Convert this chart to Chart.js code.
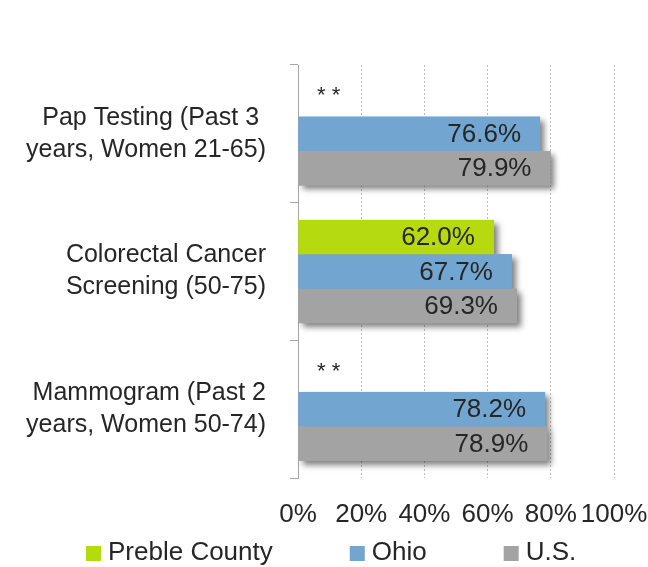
<!DOCTYPE html>
<html><head><meta charset="utf-8">
<script src="https://cdn.jsdelivr.net/npm/chart.js@4.4.0/dist/chart.umd.min.js"></script>
<style>html,body{margin:0;padding:0;background:#fff;}#wrap{width:648px;height:567px;}</style>
</head><body><div id="wrap"><canvas id="c" width="648" height="567"></canvas></div>
<script>
const categories = [["Pap Testing (Past 3 ","years, Women 21-65)"],["Colorectal Cancer","Screening (50-75)"],["Mammogram (Past 2","years, Women 50-74)"]];
const seriesNames = ["Preble County","Ohio","U.S."];
const prebleValues = [null, 62.0, null];
const ohioValues = [76.6, 67.7, 78.2];
const usValues = [79.9, 69.3, 78.9];
const xTickValues = [0,20,40,60,80,100];
const missingLabel = "* *";
const seriesColors = ["#b6da10","#72a5cf","#a3a3a3"];

const FONT = "'Liberation Sans', Arial, sans-serif";
const TEXT = "#262626";

const shadowPlugin = {
  id:'shadow',
  beforeDatasetsDraw(chart){
    const ctx = chart.ctx;
    ctx.save();
    ctx.shadowColor='rgba(0,0,0,0.5)';
    ctx.shadowBlur=6; ctx.shadowOffsetX=4; ctx.shadowOffsetY=4;
    chart.data.datasets.forEach((ds,i)=>{
      const meta = chart.getDatasetMeta(i);
      meta.data.forEach((el,j)=>{
        if(ds.data[j]==null) return;
        const p = el.getProps(['x','y','base','height'],true);
        ctx.fillStyle = ds.backgroundColor;
        ctx.fillRect(Math.min(p.base,p.x), p.y-p.height/2, Math.abs(p.x-p.base), p.height);
      });
    });
    ctx.restore();
  }
};

const labelPlugin = {
  id:'labels',
  afterDatasetsDraw(chart){
    const ctx = chart.ctx;
    const xs = chart.scales.x;
    ctx.save();
    ctx.fillStyle = TEXT;
    ctx.textBaseline = 'middle';
    chart.data.datasets.forEach((ds,i)=>{
      const meta = chart.getDatasetMeta(i);
      meta.data.forEach((el,j)=>{
        const p = el.getProps(['x','y'],true);
        if(ds.data[j]==null){
          ctx.font = "22px " + FONT;
          ctx.textAlign='left';
          ctx.fillText(missingLabel, xs.getPixelForValue(0)+19, p.y-3);
        } else {
          ctx.font = "26px " + FONT;
          ctx.textAlign='right';
          ctx.fillText(ds.data[j].toFixed(1)+'%', p.x-19, p.y+1);
        }
      });
    });
    ctx.restore();
  }
};

const legendPlugin = {
  id:'customLegend',
  afterDraw(chart){
    const ctx = chart.ctx;
    ctx.save();
    ctx.font = "26px " + FONT;
    ctx.textBaseline='middle';
    ctx.textAlign='left';
    let x = 86;
    const yMid = 553;
    chart.data.datasets.forEach(ds=>{
      ctx.fillStyle = ds.backgroundColor;
      ctx.fillRect(x, yMid-7, 15, 15);
      ctx.fillStyle = TEXT;
      ctx.fillText(ds.label, x+22, yMid);
      x += 22 + ctx.measureText(ds.label).width + 77;
    });
    ctx.restore();
  }
};

new Chart(document.getElementById('c'), {
  type:'bar',
  data:{
    labels: categories,
    datasets:[
      {label:seriesNames[0], data:prebleValues, backgroundColor:seriesColors[0]},
      {label:seriesNames[1], data:ohioValues, backgroundColor:seriesColors[1]},
      {label:seriesNames[2], data:usValues, backgroundColor:seriesColors[2]}
    ]
  },
  options:{
    indexAxis:'y',
    responsive:false,
    animation:false,
    devicePixelRatio:1,
    categoryPercentage:0.75,
    barPercentage:1.0,
    layout:{padding:{top:65,right:34,left:0,bottom:0}},
    plugins:{legend:{display:false}, tooltip:{enabled:false}, title:{display:false}},
    scales:{
      x:{
        min:0,max:100,
        afterBuildTicks(s){ s.ticks = xTickValues.map(v=>({value:v})); },
        afterFit(s){ s.height = 89; s.paddingLeft = 0; s.paddingRight = 0; },
        grid:{color:'#bdbdbd', drawTicks:false, lineWidth:1},
        border:{display:false, dash:[2,2]},
        ticks:{callback:v=>v+'%', font:{family:FONT,size:26}, color:TEXT, padding:21, maxRotation:0, autoSkip:false}
      },
      y:{
        afterFit(s){ s.width = 298; s.paddingTop = 0; s.paddingBottom = 0; },
        grid:{display:true, drawOnChartArea:false, drawTicks:true, tickLength:8, color:'#a6a6a6', offset:true},
        border:{display:true, color:'#a6a6a6'},
        ticks:{font:{family:FONT,size:25,lineHeight:1.28}, color:TEXT, padding:24, autoSkip:false}
      }
    }
  },
  plugins:[shadowPlugin,labelPlugin,legendPlugin]
});
</script></body></html>
